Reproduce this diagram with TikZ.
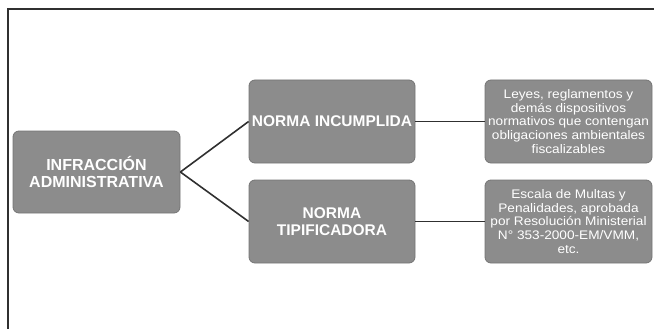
\documentclass[tikz,border=0pt]{standalone}
\usepackage{fontspec}
\setmainfont{Liberation Sans}
\newfontfamily\boxfont[FakeStretch=1.1]{Liberation Sans}
\definecolor{boxgray}{HTML}{8C8C8C}
\definecolor{boxedge}{HTML}{757575}
\definecolor{linegray}{HTML}{303030}
\tikzset{
  graybox/.style={draw=boxedge, line width=0.8pt, fill=boxgray, rounded corners=6pt,
    text=white, align=center, inner sep=1pt},
  mainbox/.style={graybox, minimum width=167pt, minimum height=82pt,
    font=\bfseries\fontsize{16}{17}\selectfont},
  midbox/.style={graybox, minimum width=166pt, minimum height=83pt,
    font=\bfseries\fontsize{15.5}{17}\selectfont},
  notebox/.style={graybox, minimum width=167pt, minimum height=83pt,
    font=\boxfont\fontsize{12.4}{13.8}\selectfont},
  link/.style={draw=linegray, line width=1.6pt},
  frame/.style={draw=linegray, line width=2pt}
}
\begin{document}
\begin{tikzpicture}[x=1pt,y=-1pt]
\useasboundingbox (0,0) rectangle (654,329);
\coordinate (tl) at (7.5,9.5);
\coordinate (tr) at (654,9.5);
\coordinate (bl) at (7.5,329);
\draw[frame] (tr) -- (tl) -- (bl);
\node[mainbox] (inf) at (96.5,172) {INFRACCIÓN\\ADMINISTRATIVA};
\node[midbox] (inc) at (332,121.5) {NORMA INCUMPLIDA};
\node[midbox] (tip) at (332,221.5) {NORMA\\TIPIFICADORA};
\node[notebox] (ley) at (568.5,121.5) {Leyes, reglamentos y\\demás dispositivos\\normativos que contengan\\obligaciones ambientales\\fiscalizables};
\node[notebox] (esc) at (568.5,221.5) {Escala de Multas y\\Penalidades, aprobada\\por Resolución Ministerial\\N° 353-2000-EM/VMM,\\etc.};
\draw[link] (inf.east) -- (inc.west);
\draw[link] (inf.east) -- (tip.west);
\draw[link] (inc.east) -- (ley.west);
\draw[link] (tip.east) -- (esc.west);
\end{tikzpicture}
\end{document}
